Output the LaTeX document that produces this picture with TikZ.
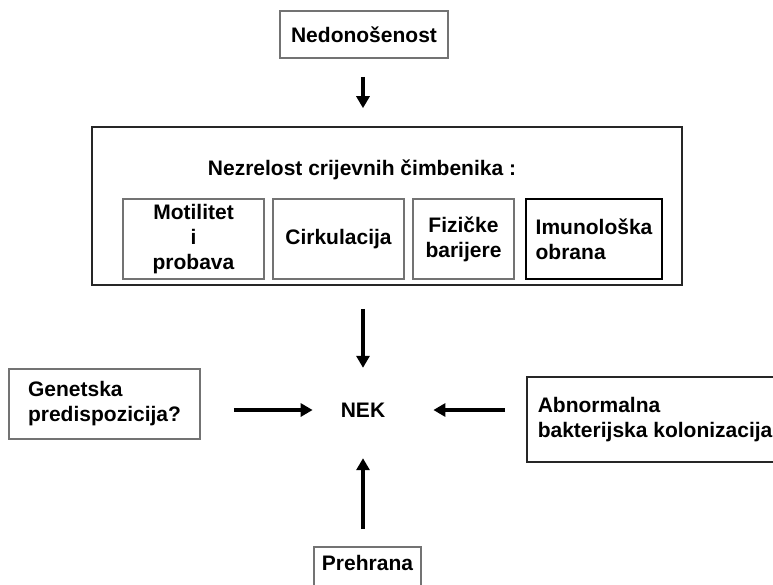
\documentclass[tikz,border=0pt]{standalone}
\usepackage{fontspec}
\setmainfont{Liberation Sans}
\usetikzlibrary{arrows.meta, positioning}

\begin{document}
\begin{tikzpicture}[x=1pt, y=-1pt, >={Triangle[width=13pt,length=12pt]},
      every node/.style={font=\fontsize{21}{25}\selectfont\bfseries, inner sep=4pt},
      graybox/.style={draw=black!55, line width=1.6pt, align=center},
      darkbox/.style={draw=black!85, line width=1.6pt, align=left},
      link/.style={->, line width=3.5pt}]
  \useasboundingbox (0,0) rectangle (773,584);
  \clip (0,0) rectangle (773,584);
  \node[graybox, minimum width=168pt, minimum height=47pt] (nedo) at (364,34.5) {Nedonošenost};
  \node[darkbox, minimum width=590pt, minimum height=158pt] (crijevo) at (387,206) {};
  \node[anchor=base, inner sep=0pt] (naslov) at (362,175) {Nezrelost crijevnih čimbenika :};
  \node[graybox, minimum width=141pt, minimum height=80pt] (motil) at (193.5,239) {Motilitet\\i\\probava};
  \node[graybox, minimum width=131pt, minimum height=80pt] (cirk) at (338.5,239) {Cirkulacija};
  \node[graybox, minimum width=101pt, minimum height=80pt] (fiz) at (463.5,239) {Fizičke\\barijere};
  \node[darkbox, draw=black, minimum width=136pt, minimum height=80pt] (imun) at (594,239) {Imunološka\\obrana};
  \node[inner sep=0pt, minimum width=44pt, minimum height=30pt] (nek) at (363,410) {NEK};
  \node[graybox, align=left, minimum width=191pt, minimum height=70pt] (gen) at (104.5,404) {Genetska\\predispozicija?};
  \node[darkbox, anchor=west, inner xsep=11pt, minimum height=85pt] (abn) at (526,419.5) {Abnormalna\\bakterijska kolonizacija};
  \node[graybox, anchor=north, inner xsep=8pt, inner ysep=8.7pt, text depth=20pt, minimum width=107pt] (preh) at (367.5,546) {Prehrana};
  \draw[link, shorten <=18pt, shorten >=18pt] (nedo.south -| nek.north) -- (crijevo.north -| nek.north);
  \draw[link, shorten <=23pt, shorten >=27pt] (crijevo.south -| nek.north) -- (nek.north);
  \draw[link, shorten <=33pt, shorten >=28pt] (gen.east |- nek.west) -- (nek.west);
  \draw[link, shorten <=21pt, shorten >=48pt] (abn.west |- nek.east) -- (nek.east);
  \draw[link, shorten <=17pt, shorten >=33pt] (preh.north -| nek.south) -- (nek.south);
\end{tikzpicture}
\end{document}
